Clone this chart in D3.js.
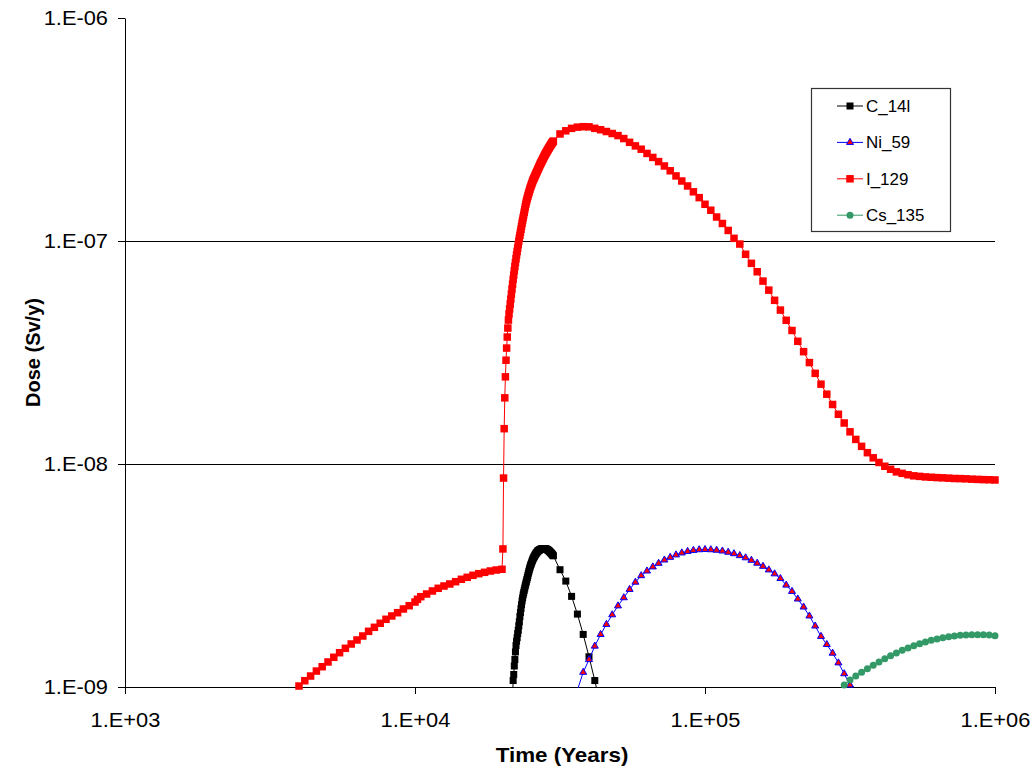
<!DOCTYPE html>
<html>
<head>
<meta charset="utf-8">
<script src="https://cdn.jsdelivr.net/npm/d3@7"></script>
<style>
  body { margin: 0; background: #fff; }
  text { font-family: "Liberation Sans", Arial, sans-serif; fill: #000; }
</style>
</head>
<body>
<div id="chart"></div>
<script>
// Times of the closely spaced output steps (years), 20100 .. 30000
const denseTimes = [
  20100, 20200, 20300, 20400, 20500, 20600, 20700, 20800, 20900, 21000,
  21100, 21200, 21300, 21400, 21500, 21600, 21700, 21800, 21900, 22000,
  22100, 22200, 22300, 22400, 22500, 22600, 22700, 22800, 22900, 23000,
  23100, 23200, 23300, 23400, 23500, 23600, 23700, 23800, 23900, 24000,
  24100, 24200, 24300, 24400, 24500, 24600, 24700, 24800, 24900, 25000,
  25100, 25200, 25300, 25400, 25500, 25600, 25700, 25800, 25900, 26000,
  26100, 26200, 26300, 26400, 26500, 26600, 26700, 26800, 26900, 27000,
  27100, 27200, 27300, 27400, 27500, 27600, 27700, 27800, 27900, 28000,
  28100, 28200, 28300, 28400, 28500, 28600, 28700, 28800, 28900, 29000,
  29100, 29200, 29300, 29400, 29500, 29600, 29700, 29800, 29900, 30000
];

// I_129 dose at denseTimes (Sv/y)
const i129DenseDose = [
  4.16e-9, 8.65e-9, 1.44e-8, 1.98e-8, 2.46e-8, 2.92e-8, 3.31e-8, 3.71e-8, 4.07e-8, 4.42e-8,
  4.71e-8, 4.96e-8, 5.22e-8, 5.49e-8, 5.78e-8, 6.09e-8, 6.40e-8, 6.73e-8, 7.04e-8, 7.37e-8,
  7.69e-8, 8.01e-8, 8.33e-8, 8.66e-8, 8.98e-8, 9.30e-8, 9.64e-8, 9.98e-8, 1.029e-7, 1.062e-7,
  1.095e-7, 1.129e-7, 1.165e-7, 1.202e-7, 1.236e-7, 1.271e-7, 1.307e-7, 1.345e-7, 1.383e-7, 1.422e-7,
  1.459e-7, 1.496e-7, 1.527e-7, 1.559e-7, 1.589e-7, 1.620e-7, 1.648e-7, 1.676e-7, 1.706e-7, 1.736e-7,
  1.761e-7, 1.787e-7, 1.813e-7, 1.839e-7, 1.866e-7, 1.887e-7, 1.909e-7, 1.931e-7, 1.953e-7, 1.975e-7,
  1.997e-7, 2.019e-7, 2.041e-7, 2.064e-7, 2.087e-7, 2.110e-7, 2.133e-7, 2.156e-7, 2.179e-7, 2.203e-7,
  2.224e-7, 2.245e-7, 2.267e-7, 2.289e-7, 2.311e-7, 2.333e-7, 2.355e-7, 2.378e-7, 2.400e-7, 2.423e-7,
  2.443e-7, 2.463e-7, 2.484e-7, 2.504e-7, 2.525e-7, 2.544e-7, 2.564e-7, 2.583e-7, 2.603e-7, 2.623e-7,
  2.642e-7, 2.661e-7, 2.681e-7, 2.700e-7, 2.720e-7, 2.737e-7, 2.754e-7, 2.771e-7, 2.788e-7, 2.805e-7
];

// C_14l dose at denseTimes from 21700 on (Sv/y)
const c14DenseDose = [
  9.0e-10, 1.069e-9, 1.138e-9, 1.242e-9,
  1.328e-9, 1.436e-9, 1.535e-9, 1.605e-9, 1.664e-9, 1.736e-9, 1.796e-9, 1.881e-9, 1.962e-9, 2.069e-9,
  2.157e-9, 2.249e-9, 2.339e-9, 2.433e-9, 2.508e-9, 2.586e-9, 2.648e-9, 2.712e-9, 2.777e-9, 2.843e-9,
  2.904e-9, 2.966e-9, 3.029e-9, 3.094e-9, 3.164e-9, 3.236e-9, 3.302e-9, 3.369e-9, 3.429e-9, 3.491e-9,
  3.541e-9, 3.591e-9, 3.642e-9, 3.693e-9, 3.746e-9, 3.782e-9, 3.818e-9, 3.854e-9, 3.891e-9, 3.928e-9,
  3.956e-9, 3.983e-9, 4.011e-9, 4.039e-9, 4.068e-9, 4.081e-9, 4.095e-9, 4.109e-9, 4.122e-9, 4.136e-9,
  4.144e-9, 4.151e-9, 4.159e-9, 4.166e-9, 4.174e-9, 4.172e-9, 4.170e-9, 4.169e-9, 4.167e-9, 4.165e-9,
  4.161e-9, 4.157e-9, 4.153e-9, 4.149e-9, 4.145e-9, 4.131e-9, 4.116e-9, 4.102e-9, 4.087e-9, 4.073e-9,
  4.055e-9, 4.036e-9, 4.018e-9, 4.000e-9, 3.981e-9, 3.960e-9, 3.938e-9, 3.917e-9, 3.896e-9, 3.875e-9
];

// Remaining points, [time in years, dose in Sv/y]
const c14Late = [
  [31623, 3.357e-9], [33113, 2.985e-9], [34674, 2.549e-9], [36308, 2.123e-9], [38019, 1.721e-9],
  [39811, 1.366e-9], [41687, 1.069e-9], [43652, 8.22e-10]
];

const ni59Data = [
  [36308, 9.69e-10], [38019, 1.164e-9], [39811, 1.327e-9], [41687, 1.525e-9], [43652, 1.720e-9],
  [45709, 1.909e-9], [47863, 2.108e-9], [50119, 2.311e-9], [52481, 2.514e-9], [54954, 2.740e-9],
  [57544, 2.951e-9], [60256, 3.156e-9], [63096, 3.313e-9], [66069, 3.456e-9], [69183, 3.587e-9],
  [72444, 3.711e-9], [75858, 3.816e-9], [79433, 3.912e-9], [83176, 3.993e-9], [87096, 4.056e-9],
  [91201, 4.098e-9], [95499, 4.127e-9], [100000, 4.136e-9], [104713, 4.127e-9], [109648, 4.106e-9],
  [114815, 4.073e-9], [120226, 4.022e-9], [125893, 3.961e-9], [131826, 3.883e-9], [138038, 3.797e-9],
  [144544, 3.700e-9], [151356, 3.591e-9], [158489, 3.478e-9], [165959, 3.350e-9], [173780, 3.218e-9],
  [181970, 3.065e-9], [190546, 2.864e-9], [199526, 2.684e-9], [208930, 2.481e-9], [218776, 2.284e-9],
  [229087, 2.082e-9], [239883, 1.877e-9], [251189, 1.686e-9], [263027, 1.551e-9], [275423, 1.418e-9],
  [288403, 1.283e-9], [301995, 1.147e-9], [316228, 1.021e-9], [331131, 9.02e-10]
];

const i129Early = [
  [3802, 9.5e-10], [3981, 1.010e-9], [4169, 1.067e-9], [4365, 1.120e-9], [4571, 1.179e-9],
  [4786, 1.233e-9], [5012, 1.295e-9], [5248, 1.359e-9], [5495, 1.425e-9], [5754, 1.491e-9],
  [6026, 1.559e-9], [6310, 1.625e-9], [6607, 1.693e-9], [6918, 1.777e-9], [7244, 1.852e-9],
  [7586, 1.931e-9], [7943, 2.012e-9], [8318, 2.082e-9], [8710, 2.154e-9], [9120, 2.238e-9],
  [9550, 2.315e-9], [10000, 2.405e-9], [10200, 2.473e-9], [10471, 2.541e-9], [10965, 2.612e-9],
  [11482, 2.695e-9], [12023, 2.771e-9], [12589, 2.837e-9], [13183, 2.897e-9], [13804, 2.966e-9],
  [14454, 3.041e-9], [15136, 3.104e-9], [15849, 3.169e-9], [16596, 3.222e-9], [17378, 3.268e-9],
  [18197, 3.313e-9], [19055, 3.347e-9], [19953, 3.372e-9]
];

const i129Late = [
  [31623, 3.02e-7], [33113, 3.12e-7], [34674, 3.20e-7], [36308, 3.24e-7], [38019, 3.255e-7],
  [39811, 3.25e-7], [41687, 3.20e-7], [43652, 3.155e-7], [45709, 3.097e-7], [47863, 3.034e-7],
  [50119, 2.97e-7], [52481, 2.88e-7], [54954, 2.77e-7], [57544, 2.67e-7], [60256, 2.58e-7],
  [63096, 2.47e-7], [66069, 2.37e-7], [69183, 2.27e-7], [72444, 2.17e-7], [75858, 2.065e-7],
  [79433, 1.958e-7], [83176, 1.858e-7], [87096, 1.765e-7], [91201, 1.662e-7], [95499, 1.565e-7],
  [100000, 1.461e-7], [104713, 1.374e-7], [109648, 1.281e-7], [114815, 1.198e-7], [120226, 1.115e-7],
  [125893, 1.028e-7], [131826, 9.69e-8], [138038, 8.72e-8], [144544, 7.94e-8], [151356, 7.28e-8],
  [158489, 6.61e-8], [165959, 6.02e-8], [173780, 5.42e-8], [181970, 4.90e-8], [190546, 4.41e-8],
  [199526, 3.97e-8], [208930, 3.55e-8], [218776, 3.19e-8], [229087, 2.85e-8], [239883, 2.55e-8],
  [251189, 2.28e-8], [263027, 2.056e-8], [275423, 1.849e-8], [288403, 1.671e-8], [301995, 1.527e-8],
  [316228, 1.394e-8], [331131, 1.289e-8], [346737, 1.20e-8], [363078, 1.124e-8], [380189, 1.066e-8],
  [398107, 1.016e-8], [416869, 9.77e-9], [436516, 9.47e-9], [457088, 9.22e-9], [478630, 9.08e-9],
  [501187, 8.95e-9], [524807, 8.85e-9], [549541, 8.80e-9], [575440, 8.75e-9], [602560, 8.72e-9],
  [630957, 8.69e-9], [660693, 8.67e-9], [691831, 8.64e-9], [724436, 8.61e-9], [758578, 8.60e-9],
  [794328, 8.58e-9], [831764, 8.55e-9], [870964, 8.53e-9], [912011, 8.51e-9], [954993, 8.50e-9],
  [1000000, 8.48e-9]
];

const cs135Data = [
  [288403, 9.40e-10], [301995, 1.021e-9], [316228, 1.075e-9], [331131, 1.120e-9], [346737, 1.164e-9],
  [363078, 1.208e-9], [380189, 1.251e-9], [398107, 1.295e-9], [416869, 1.339e-9], [436516, 1.382e-9],
  [457088, 1.421e-9], [478630, 1.461e-9], [501187, 1.496e-9], [524807, 1.532e-9], [549541, 1.564e-9],
  [575440, 1.591e-9], [602560, 1.620e-9], [630957, 1.641e-9], [660693, 1.664e-9], [691831, 1.681e-9],
  [724436, 1.693e-9], [758578, 1.705e-9], [794328, 1.711e-9], [831764, 1.716e-9], [870964, 1.716e-9],
  [912011, 1.716e-9], [954993, 1.711e-9], [1000000, 1.698e-9]
];

const seriesNames = ["C_14l", "Ni_59", "I_129", "Cs_135"];
const xTicks = [1e3, 1e4, 1e5, 1e6];
const yTicks = [1e-9, 1e-8, 1e-7, 1e-6];
const gridValues = [1e-8, 1e-7];

// Join the dense steps with the rest
const c14Start = denseTimes.indexOf(21700);
const c14Data = c14DenseDose.map((v, i) => [denseTimes[c14Start + i], v]).concat(c14Late);
const i129Data = i129Early
    .concat(i129DenseDose.map((v, i) => [denseTimes[i], v]))
    .concat(i129Late);

// Styles per series
const series = [
  {name: seriesNames[0], data: c14Data, line: "#000000", shape: "square", size: 7, fill: "#000000", stroke: "none"},
  {name: seriesNames[1], data: ni59Data, line: "#0000FF", shape: "triangle", size: 7, fill: "#FF0000", stroke: "#0000FF"},
  {name: seriesNames[2], data: i129Data, line: "#FF0000", shape: "square", size: 7.5, fill: "#FF0000", stroke: "none"},
  {name: seriesNames[3], data: cs135Data, line: "#339966", shape: "circle", size: 7, fill: "#339966", stroke: "none"}
];

// Text in the picture is a bit wider than plain Arial
const stretch = 1.12;

const margin = {top: 18, right: 41, bottom: 84, left: 125};
const width = 1036 - margin.left - margin.right;
const height = 771 - margin.top - margin.bottom;

const root = d3.select("#chart")
    .append("svg")
    .attr("width", 1036)
    .attr("height", 771);

const svg = root.append("g")
    .attr("transform", `translate(${margin.left},${margin.top})`);

const xScale = d3.scaleLog().domain([1e3, 1e6]).range([0, width]);
const yScale = d3.scaleLog().domain([1e-9, 1e-6]).range([height, 0]);

const fmt = function(d) {
    const e = Math.round(Math.log10(d));
    return "1.E" + (e < 0 ? "-" : "+") + String(Math.abs(e)).padStart(2, "0");
};

// Gridlines
svg.selectAll(".grid")
    .data(gridValues)
    .enter()
    .append("line")
    .attr("x1", 0)
    .attr("x2", width)
    .attr("y1", d => Math.round(yScale(d)) + 0.5)
    .attr("y2", d => Math.round(yScale(d)) + 0.5)
    .attr("stroke", "#000")
    .attr("stroke-width", 1);

// Axes
const xAxis = svg.append("g")
    .attr("transform", `translate(0,${height})`)
    .call(d3.axisBottom(xScale).tickValues(xTicks).tickFormat(fmt).tickSize(7).tickSizeOuter(0));

const yAxis = svg.append("g")
    .call(d3.axisLeft(yScale).tickValues(yTicks).tickFormat(fmt).tickSize(7).tickSizeOuter(0));

[xAxis, yAxis].forEach(function(ax) {
    ax.select(".domain").attr("stroke", "#000");
    ax.selectAll(".tick line").attr("stroke", "#000");
    ax.selectAll(".tick text")
        .style("font-size", "19.5px")
        .attr("fill", "#000");
});

xAxis.selectAll(".tick text")
    .attr("y", 26)
    .attr("transform", `scale(${stretch},1)`);

yAxis.selectAll(".tick text")
    .attr("x", -17 / stretch)
    .attr("transform", `scale(${stretch},1)`);

// Axis titles
svg.append("text")
    .attr("transform", `translate(${562 - margin.left},${762 - margin.top}) scale(${stretch},1)`)
    .style("text-anchor", "middle")
    .style("font-size", "20px")
    .style("font-weight", "bold")
    .text("Time (Years)");

svg.append("text")
    .attr("transform", `translate(${40 - margin.left},${height / 2}) rotate(-90)`)
    .style("text-anchor", "middle")
    .style("font-size", "20px")
    .style("font-weight", "bold")
    .text("Dose (Sv/y)");

// Clip lines to the plot area
root.append("defs").append("clipPath")
    .attr("id", "plotClip")
    .append("rect")
    .attr("x", 0)
    .attr("y", 0)
    .attr("width", width)
    .attr("height", height + 1);

const line = d3.line()
    .x(d => xScale(d[0]))
    .y(d => yScale(d[1]));

function drawMarker(sel, s) {
    if (s.shape === "square") {
        sel.append("rect")
            .attr("x", -s.size / 2)
            .attr("y", -s.size / 2)
            .attr("width", s.size)
            .attr("height", s.size)
            .attr("fill", s.fill);
    } else if (s.shape === "triangle") {
        sel.append("path")
            .attr("d", d3.symbol(d3.symbolTriangle, s.size * s.size * Math.sqrt(3) / 4)())
            .attr("fill", s.fill)
            .attr("stroke", s.stroke)
            .attr("stroke-width", 1);
    } else {
        sel.append("circle")
            .attr("r", s.size / 2)
            .attr("fill", s.fill);
    }
}

// Draw series
series.forEach(function(s) {
    svg.append("path")
        .datum(s.data)
        .attr("clip-path", "url(#plotClip)")
        .attr("fill", "none")
        .attr("stroke", s.line)
        .attr("stroke-width", 1)
        .attr("d", line);

    svg.append("g")
        .selectAll("g")
        .data(s.data.filter(d => d[1] >= 1e-9 && d[1] <= 1e-6))
        .enter()
        .append("g")
        .attr("transform", d => `translate(${xScale(d[0])},${yScale(d[1])})`)
        .each(function() { drawMarker(d3.select(this), s); });
});

// Legend
const legend = root.append("g");

legend.append("rect")
    .attr("x", 811.5)
    .attr("y", 88.5)
    .attr("width", 139)
    .attr("height", 143)
    .attr("fill", "#fff")
    .attr("stroke", "#333")
    .attr("stroke-width", 1.2);

const legendRows = legend.selectAll(".legend")
    .data(series)
    .enter()
    .append("g")
    .attr("class", "legend")
    .attr("transform", (d, i) => `translate(850,${106 + i * 36.4})`);

legendRows.append("line")
    .attr("x1", -13)
    .attr("x2", 13)
    .attr("stroke", d => d.line)
    .attr("stroke-width", 1);

legendRows.each(function(d) { drawMarker(d3.select(this).append("g"), d); });

legendRows.append("text")
    .attr("x", 16 / 1.06)
    .attr("dy", "0.36em")
    .attr("transform", "scale(1.06,1)")
    .style("font-size", "16px")
    .text(d => d.name);
</script>
</body>
</html>
